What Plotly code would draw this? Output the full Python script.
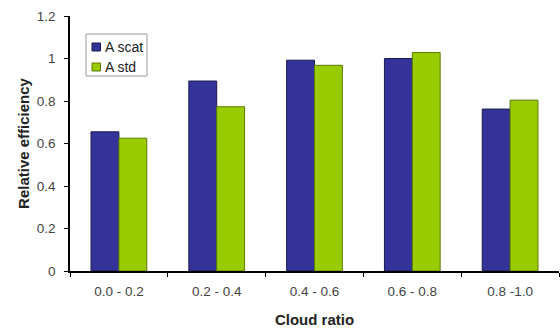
import plotly.graph_objects as go

categories = ["0.0 - 0.2", "0.2 - 0.4", "0.4 - 0.6", "0.6 - 0.8", "0.8 -1.0"]
a_scat = [0.655, 0.894, 0.992, 1.0, 0.762]
a_std = [0.625, 0.773, 0.968, 1.028, 0.804]
y_ticks = [0, 0.2, 0.4, 0.6, 0.8, 1, 1.2]
y_ticklabels = ["0", "0.2", "0.4", "0.6", "0.8", "1", "1.2"]

series = [
    ("A scat", a_scat, "#333399", "#1a1a4d"),
    ("A std", a_std, "#99CC00", "#5c7a00"),
]

W, H = 560, 329
ML, MR, MT, MB = 70, 1, 16, 58
font = "Liberation Sans, Arial, sans-serif"


def px_x(px):
    return (px - ML) / (W - ML - MR)


def px_y(py):
    return (H - MB - py) / (H - MT - MB)


fig = go.Figure()
for name, vals, fill, edge in series:
    fig.add_bar(x=categories, y=vals, name=name, showlegend=False,
                marker=dict(color=fill, line=dict(color=edge, width=1)))

# Compact boxed legend in the upper-left of the plot area
shapes = [dict(type="rect", xref="paper", yref="paper",
               x0=px_x(86), x1=px_x(147), y0=px_y(76), y1=px_y(34),
               line=dict(color="#999999", width=1), fillcolor="white", layer="above")]
annotations = []
for i, (name, vals, fill, edge) in enumerate(series):
    cy = 47 + 20 * i
    shapes.append(dict(type="rect", xref="paper", yref="paper",
                       x0=px_x(92), x1=px_x(100.5), y0=px_y(cy + 4), y1=px_y(cy - 4),
                       line=dict(color=edge, width=1), fillcolor=fill, layer="above"))
    annotations.append(dict(xref="paper", yref="paper", x=px_x(102.5), y=px_y(cy),
                            xanchor="left", yanchor="middle", showarrow=False,
                            text=name, font=dict(family=font, size=14, color="#222222")))

fig.update_layout(
    width=W, height=H,
    margin=dict(l=ML, r=MR, t=MT, b=MB),
    paper_bgcolor="white", plot_bgcolor="white",
    barmode="group", bargap=0.43, bargroupgap=0,
    font=dict(family=font, size=13.5, color="#444444"),
    shapes=shapes, annotations=annotations,
    xaxis=dict(showline=True, linecolor="black", linewidth=1.5,
               ticks="outside", tickson="boundaries", ticklen=4,
               tickcolor="black", showgrid=False, ticklabelstandoff=7,
               title=dict(text="<b>Cloud ratio</b>", font=dict(size=15, color="#222222"),
                          standoff=17)),
    yaxis=dict(range=[0, 1.2], tickvals=y_ticks, ticktext=y_ticklabels,
               showline=True, linecolor="black", linewidth=1.5,
               ticks="outside", ticklen=4, tickcolor="black",
               showgrid=False, zeroline=False, ticklabelstandoff=6,
               title=dict(text="<b>Relative efficiency</b>",
                          font=dict(size=15, color="#222222"), standoff=4)),
)

fig.write_html("out.html")
